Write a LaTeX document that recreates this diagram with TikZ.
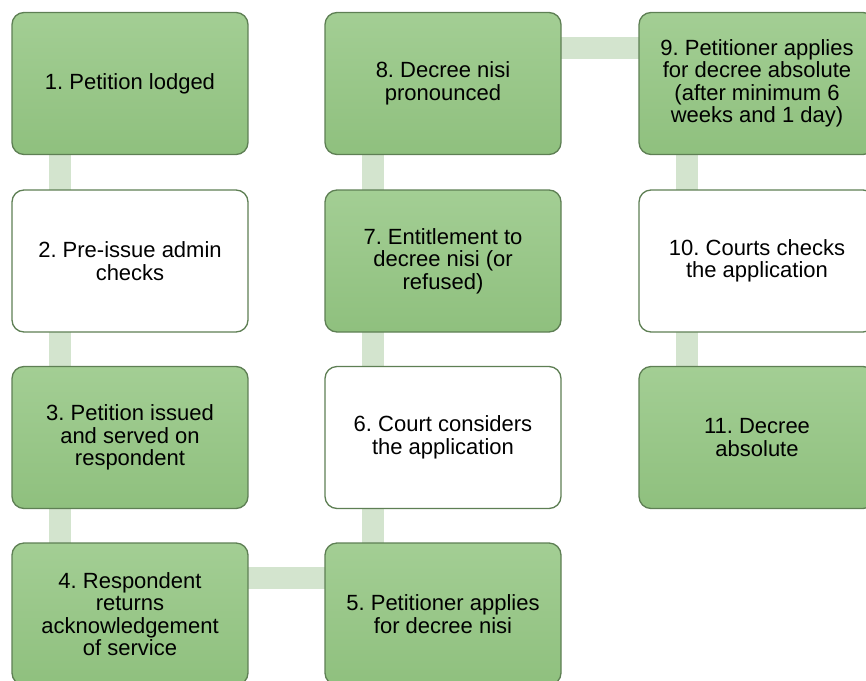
\documentclass[tikz,border=0pt]{standalone}
\usepackage{fontspec}
\setmainfont{Liberation Sans}
\usetikzlibrary{backgrounds}
\frenchspacing
\definecolor{boxgreen}{HTML}{A3CE94}
\definecolor{boxgreendark}{HTML}{8FC07E}
\definecolor{boxline}{HTML}{5E7F54}
\definecolor{linkgreen}{HTML}{D3E4CE}
\begin{document}
\begin{tikzpicture}[x=1pt,y=-1pt,
    stage/.style={rectangle,rounded corners=12pt,draw=boxline,line width=1.3pt,
      minimum width=236pt,minimum height=142pt,align=center,
      font=\fontsize{22}{22.5}\selectfont},
    filled/.style={stage,top color=boxgreen,bottom color=boxgreendark},
    open/.style={stage,fill=white},
    link/.style={draw=linkgreen,line width=22pt}]
  \useasboundingbox (0,0) rectangle (866,680);
  \node[filled] (n1) at (130,83.5) {1. Petition lodged};
  \node[open] (n2) at (130,261) {2. Pre-issue admin\\checks};
  \node[filled] (n3) at (130,437.5) {3. Petition issued\\and served on\\respondent};
  \node[filled] (n4) at (130,614) {4. Respondent\\returns\\acknowledgement\\of service};
  \node[filled] (n5) at (443,614) {5. Petitioner applies\\for decree nisi};
  \node[open] (n6) at (443,437.5) {6. Court considers\\the application};
  \node[filled] (n7) at (443,261) {7. Entitlement to\\decree nisi (or\\refused)};
  \node[filled] (n8) at (443,83.5) {8. Decree nisi\\pronounced};
  \node[filled] (n9) at (757,83.5) {9. Petitioner applies\\for decree absolute\\(after minimum 6\\weeks and 1 day)};
  \node[open] (n10) at (757,261) {10. Courts checks\\the application};
  \node[filled] (n11) at (757,437.5) {11. Decree\\absolute};
  \begin{scope}[on background layer]
    \draw[link] ([xshift=-70pt]n1.center) -- ([xshift=-70pt]n2.center);
    \draw[link] ([xshift=-70pt]n2.center) -- ([xshift=-70pt]n3.center);
    \draw[link] ([xshift=-70pt]n3.center) -- ([xshift=-70pt]n4.center);
    \draw[link] ([yshift=36pt]n4.center) -- ([yshift=36pt]n5.center);
    \draw[link] ([xshift=-70pt]n5.center) -- ([xshift=-70pt]n6.center);
    \draw[link] ([xshift=-70pt]n6.center) -- ([xshift=-70pt]n7.center);
    \draw[link] ([xshift=-70pt]n7.center) -- ([xshift=-70pt]n8.center);
    \draw[link] ([yshift=36pt]n8.center) -- ([yshift=36pt]n9.center);
    \draw[link] ([xshift=-70pt]n9.center) -- ([xshift=-70pt]n10.center);
    \draw[link] ([xshift=-70pt]n10.center) -- ([xshift=-70pt]n11.center);
  \end{scope}
\end{tikzpicture}
\end{document}
